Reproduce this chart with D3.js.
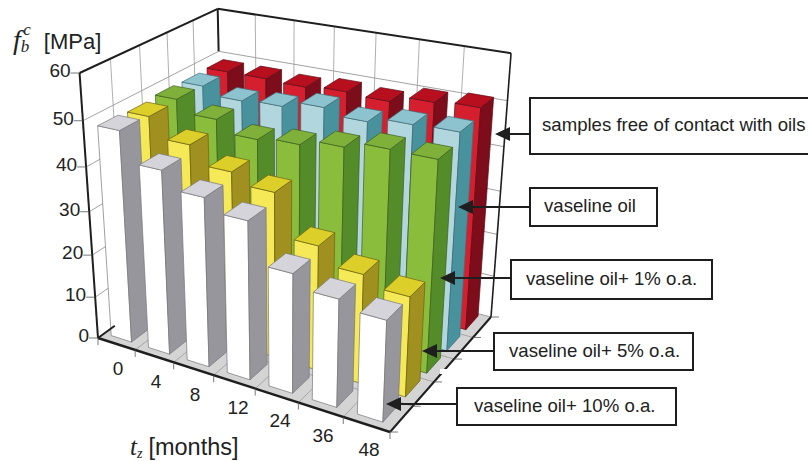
<!DOCTYPE html>
<html><head><meta charset="utf-8"><style>html,body{margin:0;background:#fff}svg{display:block}</style>
<script src="https://cdnjs.cloudflare.com/ajax/libs/d3/7.8.5/d3.min.js"></script></head><body>
<svg id="c" width="808" height="461"></svg>
<script>
const months=["0","4","8","12","24","36","48"];
const seriesNames=["vaseline oil+ 10% o.a.","vaseline oil+ 5% o.a.","vaseline oil+ 1% o.a.","vaseline oil","samples free of contact with oils"];
const white=[48.5,42,38.3,35.6,26.8,24,22.3];
const yellow=[48.1,43.8,39.9,37.6,28.3,24.6,22.4];
const green=[48.6,45.9,43.3,44.1,45.5,47,46.9];
const blue=[48.4,46.7,47.2,48.7,47.4,48.6,48.9];
const red=[48.6,48.6,48.3,48.9,48.5,50,50.6];
const zTicks=[0,10,20,30,40,50,60];
const faces=[
 {f:"#ffffff",s:"#96969c",t:"#d4d4da",e:"#77777c"},
 {f:"#f5e957",s:"#a0901f",t:"#dccf2a",e:"#6b6215"},
 {f:"#8bbd3c",s:"#548c2a",t:"#7fb03a",e:"#3d5f20"},
 {f:"#b2d6de",s:"#48929e",t:"#8cc3cf",e:"#3f6f78"},
 {f:"#d61f2e",s:"#7e0d1c",t:"#b80f1f",e:"#5c0a14"}];
const boxes=[
 {x:530,y:98,w:300,h:56,tx:542,label:seriesNames[4],tip:[495,134]},
 {x:530,y:188,w:127,h:38,tx:544,label:seriesNames[3],tip:[458,207]},
 {x:511,y:260,w:201,h:39,tx:526,label:seriesNames[2],tip:[440,278]},
 {x:494,y:333,w:199,h:37,tx:509,label:seriesNames[1],tip:[422,351]},
 {x:457,y:388,w:219,h:37,tx:474,label:seriesNames[0],tip:[386,404]}];
const monthLabels=[[118,375],[156,388],[195,401],[238,414],[280,427],[323,442],[369,456]];

const svg=d3.select("#c");
const p00=[98,338],p10=[390,432],p11=[491,317],p01=[223,247],VP=[285,3026];
const dx1=p10[0]-p11[0],dx2=p01[0]-p11[0],sx=p00[0]-p10[0]+p11[0]-p01[0];
const dy1=p10[1]-p11[1],dy2=p01[1]-p11[1],sy=p00[1]-p10[1]+p11[1]-p01[1];
const det=dx1*dy2-dx2*dy1;
const g=(sx*dy2-dx2*sy)/det,h=(dx1*sy-sx*dy1)/det;
const a=p10[0]-p00[0]+g*p10[0],b=p01[0]-p00[0]+h*p01[0],c0=p00[0];
const d=p10[1]-p00[1]+g*p10[1],e=p01[1]-p00[1]+h*p01[1],f0=p00[1];
const k=(73-338)/(VP[1]-73);
const zScale=d3.scaleLinear().domain([0,60]).range([0,1]);
function P(u,v,val){const z=zScale(val);const w=g*u+h*v+1+k*z;
 return [(a*u+b*v+c0+k*VP[0]*z)/w,(d*u+e*v+f0+k*VP[1]*z)/w];}
const uBand=d3.scaleBand().domain(months).range([0,1]).paddingInner(.45).paddingOuter(.225).align(.42);
const vBand=d3.scaleBand().domain(seriesNames).range([0,1]).paddingInner(.325).paddingOuter(.1625).align(.69);
const uTick=d3.scaleLinear().domain([0,months.length]).range([0,1]);
const vTick=d3.scaleLinear().domain([0,seriesNames.length]).range([0,1]);
const line=d3.line();
function seg(p,q,stroke,w){svg.append("line").attr("x1",p[0]).attr("y1",p[1]).attr("x2",q[0]).attr("y2",q[1]).attr("stroke",stroke).attr("stroke-width",w);}
function poly(pts,fill,stroke,w){svg.append("path").attr("d",line(pts)+"Z").attr("fill",fill).attr("stroke",stroke||"none").attr("stroke-width",w||0).attr("stroke-linejoin","round");}
poly([P(0,0,0),P(1,0,0),P(1,1,0),P(0,1,0)],"#d4d4d4");
zTicks.forEach(t=>{if(t>0&&t<60){seg(P(0,0,t),P(0,1,t),"#8a8a8a",.8);seg(P(0,1,t),P(1,1,t),"#8a8a8a",.8);}
 if(t===0)seg(P(0,1,t),P(1,1,t),"#8a8a8a",.8);});
d3.range(1,seriesNames.length).forEach(i=>{const v=vTick(i);seg(P(0,v,0),P(0,v,60),"#9a9a9a",.8);seg(P(0,v,0),P(1,v,0),"#9a9a9a",.8);});
d3.range(1,months.length).forEach(i=>{const u=uTick(i);seg(P(u,1,0),P(u,1,60),"#9a9a9a",.8);seg(P(u,0,0),P(u,1,0),"#9a9a9a",.8);});
const allSeries=[white,yellow,green,blue,red];
d3.range(allSeries.length-1,-1,-1).forEach(si=>{
 const vals=allSeries[si];
 const v0=vBand(seriesNames[si]),v1=v0+vBand.bandwidth();
 const C=faces[si];
 vals.forEach((val,mi)=>{const u0=uBand(months[mi]),u1=u0+uBand.bandwidth();
  poly([P(u0,v0,0),P(u1,v0,0),P(u1,v0,val),P(u0,v0,val)],C.f,C.e,.7);
  poly([P(u1,v0,0),P(u1,v1,0),P(u1,v1,val),P(u1,v0,val)],C.s,C.e,.7);
  poly([P(u0,v0,val),P(u1,v0,val),P(u1,v1,val),P(u0,v1,val)],C.t,C.e,.7);
 });
});
const K="#1e1e1e";
seg(P(0,0,0),P(0,0,60),K,2);
seg(P(0,0,60),P(0,1,60),K,2);
seg(P(0,1,60),P(1,1,60),K,2);
seg(P(1,1,60),P(1,1,0),K,1.6);
seg(P(0,1,60),P(0,1,50),K,2);
seg(P(0,0,0),P(1,0,0),K,2.4);
seg(P(1,0,0),P(1,1,0),K,2);
seg(P(0,0,0),P(0,vTick(.6),0),K,2);
svg.append("rect").attr("x",440).attr("y",369).attr("width",8).attr("height",5).attr("fill","#fff");
zTicks.forEach(t=>{const p=P(0,0,t);seg([p[0]-9,p[1]],p,"#555",.8);
 svg.append("text").attr("x",p[0]-9).attr("y",p[1]+4).attr("text-anchor","end").attr("font-family","Liberation Sans").attr("font-size",19).attr("fill","#222").text(t);});
d3.range(0,months.length+1).forEach(i=>{const p=P(uTick(i),0,0);seg(p,[p[0],p[1]+7],"#555",.8);});
d3.range(0,seriesNames.length+1).forEach(i=>{const p=P(1,vTick(i),0);seg(p,[p[0]+8,p[1]],"#555",.8);});
months.forEach((m,i)=>svg.append("text").attr("x",monthLabels[i][0]).attr("y",monthLabels[i][1]).attr("text-anchor","middle").attr("font-family","Liberation Sans").attr("font-size",19).attr("fill","#222").text(m));
const yt=svg.append("text").attr("x",13).attr("y",49).attr("font-family","Liberation Sans").attr("font-size",22).attr("fill","#222");
yt.append("tspan").attr("font-family","Liberation Serif").attr("font-style","italic").attr("font-size",28).text("f");
yt.append("tspan").attr("font-family","Liberation Serif").attr("font-style","italic").attr("font-size",17).attr("dy",3).text("b");
yt.append("tspan").attr("font-family","Liberation Serif").attr("font-style","italic").attr("font-size",17).attr("dx",-6).attr("dy",-17).text("c");
yt.append("tspan").attr("dx",13).attr("dy",14).text("[MPa]");
const xt=svg.append("text").attr("x",130).attr("y",455).attr("font-family","Liberation Sans").attr("font-size",23.5).attr("fill","#222");
xt.append("tspan").attr("font-family","Liberation Serif").attr("font-style","italic").attr("font-size",25).text("t");
xt.append("tspan").attr("font-family","Liberation Serif").attr("font-style","italic").attr("font-size",14).attr("dy",3).text("z");
xt.append("tspan").attr("dx",6).attr("dy",-3).text("[months]");
boxes.forEach(B=>{
 svg.append("rect").attr("x",B.x).attr("y",B.y).attr("width",B.w).attr("height",B.h).attr("fill","#fff").attr("stroke",K).attr("stroke-width",2);
 svg.append("text").attr("x",B.tx).attr("y",B.y+B.h/2+5).attr("font-family","Liberation Sans").attr("font-size",18.6).attr("fill","#222").text(B.label);
 seg([B.tip[0]+12,B.tip[1]],[B.x,B.tip[1]],K,2);
 poly([B.tip,[B.tip[0]+15,B.tip[1]-7],[B.tip[0]+15,B.tip[1]+7]],K);
});
</script></body></html>
